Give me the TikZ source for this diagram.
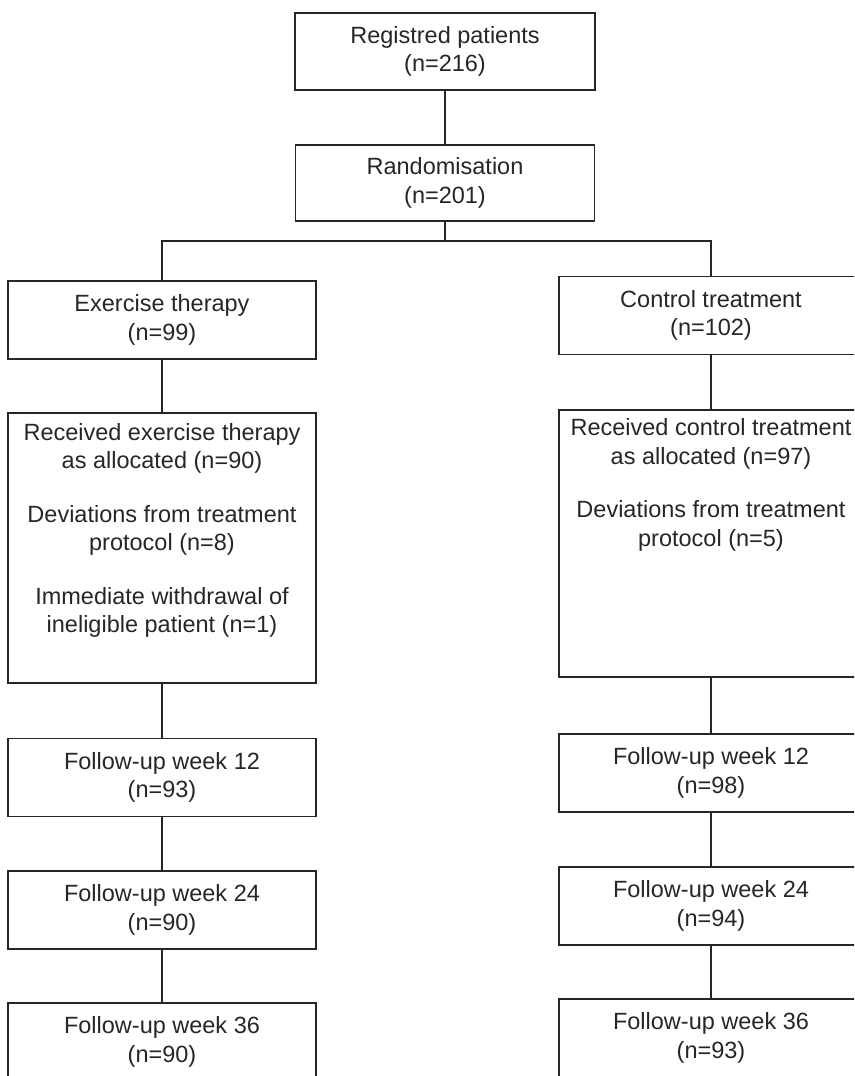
\documentclass[tikz,border=0pt]{standalone}
\usepackage{fontspec}
\setmainfont{Liberation Sans}

\begin{document}
\begin{tikzpicture}[x=1pt,y=-1pt,
  box/.style={draw=black!85,line width=1.3pt,minimum width=308pt,minimum height=78pt,
    inner sep=0pt,align=center,text=black!85,font=\fontsize{23.5}{28.5}\selectfont},
  link/.style={draw=black!85,line width=1.3pt}]
\useasboundingbox (0,0) rectangle (854,1076);
\clip (0,0) rectangle (854,1076);

% top of the chart
\node[box,minimum width=300pt,minimum height=77pt] (reg) at (445,51.5) {Registred patients\\(n=216)};
\node[box,minimum width=299pt,minimum height=76pt] (rand) at (445,183) {Randomisation\\(n=201)};
\coordinate (split) at (445,241);

% the two arms
\node[box] (ex) at (162,320) {Exercise therapy\\(n=99)};
\node[box,minimum width=304pt] (ctrl) at (711,315.5) {Control treatment\\(n=102)};

\node[box,minimum height=270pt] (recvl) at (162,548)
  {\parbox[c][250pt][t]{300pt}{\centering
    Received exercise therapy\\as allocated (n=90)\\[25pt]
    Deviations from treatment\\protocol (n=8)\\[25pt]
    Immediate withdrawal of\\ineligible patient (n=1)}};
\node[box,minimum width=304pt,minimum height=267pt] (recvr) at (711,543.5)
  {\parbox[c][250pt][t]{300pt}{\centering
    Received control treatment\\as allocated (n=97)\\[25pt]
    Deviations from treatment\\protocol (n=5)}};

\foreach \w/\nl/\nr/\yl/\yr in {12/93/98/777.5/773,24/90/94/910/906,36/90/93/1042/1038} {
  \node[box] (fl\w) at (162,\yl) {Follow-up week \w\\(n=\nl)};
  \node[box,minimum width=304pt] (fr\w) at (711,\yr) {Follow-up week \w\\(n=\nr)};
}

% connectors
\draw[link] (reg) -- (rand);
\draw[link] (rand.south) -- (split);
\draw[link] (ex.north) -- (ex.north |- split) -- (ctrl.north |- split) -- (ctrl.north);
\draw[link] (ex) -- (recvl);
\draw[link] (ctrl) -- (recvr);
\draw[link] (recvl) -- (fl12);
\draw[link] (recvr) -- (fr12);
\foreach \a/\b in {12/24,24/36} {
  \draw[link] (fl\a) -- (fl\b);
  \draw[link] (fr\a) -- (fr\b);
}
\end{tikzpicture}
\end{document}
